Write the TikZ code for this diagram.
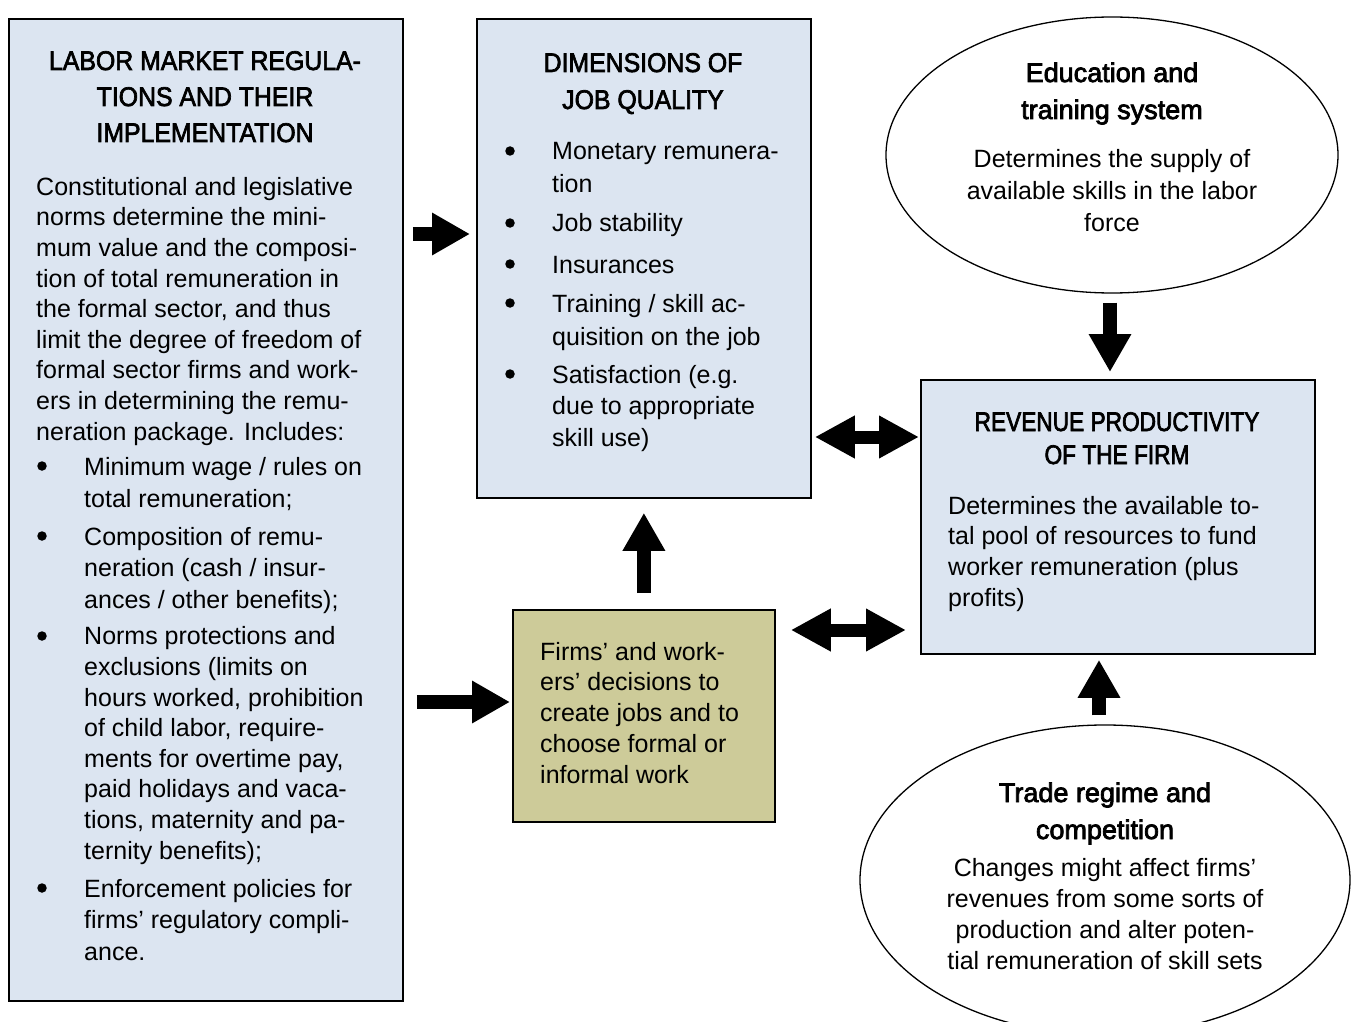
\documentclass[tikz,border=0pt]{standalone}
\usepackage{fontspec}
\setmainfont{Liberation Sans}
\newfontfamily\titlefont{Liberation Sans}[FakeStretch=0.92,FakeBold=2.5]
\newfontfamily\revfont{Liberation Sans}[FakeStretch=0.84,FakeBold=2.5]
\newfontfamily\medfont{Liberation Sans}[FakeBold=2.8]
\usetikzlibrary{arrows.meta,shapes.geometric}
\definecolor{lblue}{RGB}{220,229,241}
\definecolor{olive}{RGB}{205,203,153}
\tikzset{
  box/.style={draw, line width=1.8pt, fill=lblue, rectangle, inner sep=0pt, anchor=north west},
  oval/.style={draw, line width=1.3pt, fill=white, ellipse, inner sep=0pt},
  body/.style={inner sep=0pt, align=left, anchor=base west, font=\fontsize{25}{30.6}\selectfont},
  cbody/.style={inner sep=0pt, align=center, anchor=base, font=\fontsize{25}{31}\selectfont},
  ttl/.style={inner sep=0pt, align=center, anchor=base, font=\titlefont\fontsize{27}{36}\selectfont},
  otitle/.style={inner sep=0pt, align=center, anchor=base, font=\medfont\fontsize{27}{37}\selectfont},
  bul/.style={circle, fill=black, inner sep=0pt, minimum size=9.5pt},
  barrow/.style={line width=14pt, -{Triangle[width=40pt,length=38pt]}},
  dbarrow/.style={line width=13pt, {Triangle[width=40pt,length=40pt]}-{Triangle[width=40pt,length=40pt]}}
}
\begin{document}
\begin{tikzpicture}[x=1pt,y=-1pt]
\clip (0,0) rectangle (1353,1022);
\fill[white] (0,0) rectangle (1353,1022);
% boxes
\node[box, minimum width=394pt, minimum height=982pt] (lab) at (8,18) {};
\node[box, minimum width=334pt, minimum height=479pt] (dims) at (476,18) {};
\node[box, minimum width=394pt, minimum height=274pt] (rev) at (920,379) {};
\node[box, fill=olive, minimum width=262pt, minimum height=212pt] (firms) at (512,609) {};
\node[oval, minimum width=452pt, minimum height=276pt] (edu) at (1112,155) {};
\node[oval, minimum width=490pt, minimum height=310pt] (trade) at (1105,880) {};
% left box text (anchor = baseline of last line)
\node[ttl] (labt) at (205,142) {LABOR MARKET REGULA-\\TIONS AND THEIR\\IMPLEMENTATION};
\node[body] (labb) at (36,440) {Constitutional and legislative\\norms determine the mini-\\mum value and the composi-\\tion of total remuneration in\\the formal sector, and thus\\limit the degree of freedom of\\formal sector firms and work-\\ers in determining the remu-\\neration package. Includes:};
\node[bul] (lb1) at (42,466) {};
\node[body, font=\fontsize{25}{32}\selectfont] (li1) at (84,507) {Minimum wage / rules on\\total remuneration;};
\node[bul] (lb2) at (42,536) {};
\node[body, font=\fontsize{25}{31.5}\selectfont] (li2) at (84,608) {Composition of remu-\\neration (cash / insur-\\ances / other benefits);};
\node[bul] (lb3) at (42,636) {};
\node[body, font=\fontsize{25}{30.6}\selectfont] (li3) at (84,859) {Norms protections and\\exclusions (limits on\\hours worked, prohibition\\of child labor, require-\\ments for overtime pay,\\paid holidays and vaca-\\tions, maternity and pa-\\ternity benefits);};
\node[bul] (lb4) at (42,888) {};
\node[body, font=\fontsize{25}{31.5}\selectfont] (li4) at (84,960) {Enforcement policies for\\firms' regulatory compli-\\ance.};
% dimensions box text
\node[ttl, font=\titlefont\fontsize{27}{37}\selectfont] (dimt) at (643,109) {DIMENSIONS OF\\JOB QUALITY};
\node[bul] (db1) at (510,151) {};
\node[body, font=\fontsize{25}{33}\selectfont] (di1) at (552,193) {Monetary remunera-\\tion};
\node[bul] (db2) at (510,223) {};
\node[body] (di2) at (552,232) {Job stability};
\node[bul] (db3) at (510,264) {};
\node[body] (di3) at (552,273) {Insurances};
\node[bul] (db4) at (510,303) {};
\node[body, font=\fontsize{25}{33}\selectfont] (di4) at (552,345) {Training / skill ac-\\quisition on the job};
\node[bul] (db5) at (510,374) {};
\node[body, font=\fontsize{25}{31.5}\selectfont] (di5) at (552,446) {Satisfaction (e.g.\\due to appropriate\\skill use)};
% education ellipse
\node[otitle] (edut) at (1112,119) {Education and\\training system};
\node[cbody, font=\fontsize{25}{32}\selectfont] (edub) at (1112,231) {Determines the supply of\\available skills in the labor\\force};
% revenue box
\node[ttl, font=\revfont\fontsize{27}{33}\selectfont] (revt) at (1117,464) {REVENUE PRODUCTIVITY\\OF THE FIRM};
\node[body, font=\fontsize{25}{30.6}\selectfont] (revb) at (948,606) {Determines the available to-\\tal pool of resources to fund\\worker remuneration (plus\\profits)};
% firms box
\node[body, font=\fontsize{25}{30.75}\selectfont] (firmt) at (540,783) {Firms' and work-\\ers' decisions to\\create jobs and to\\choose formal or\\informal work};
% trade ellipse
\node[otitle] (tradet) at (1105,839) {Trade regime and\\competition};
\node[cbody, font=\fontsize{25}{31}\selectfont] (tradeb) at (1105,969) {Changes might affect firms'\\revenues from some sorts of\\production and alter poten-\\tial remuneration of skill sets};
% helper coordinates
\coordinate (yA) at (0,234);
\coordinate (yB) at (0,702);
\coordinate (yC) at (0,437);
\coordinate (yD) at (0,630);
\coordinate (xE) at (1110,0);
\coordinate (xF) at (1099,0);
% arrows
\draw[barrow] ([xshift=9pt]lab.east |- yA) -- ([xshift=-6pt]dims.west |- yA);
\draw[barrow] ([xshift=13pt]lab.east |- yB) -- ([xshift=-2pt]firms.west |- yB);
\draw[barrow] ([yshift=16pt]firms.north) -- ([yshift=-14pt]dims.south);
\draw[dbarrow] ([xshift=3pt]dims.east |- yC) -- ([xshift=-1pt]rev.west |- yC);
\draw[dbarrow] ([xshift=15pt]firms.east |- yD) -- ([xshift=-14pt]rev.west |- yD);
\draw[barrow] ([yshift=-9pt]edu.south -| xE) -- ([yshift=7pt]rev.north -| xE);
\draw[barrow] ([yshift=9pt]trade.north -| xF) -- ([yshift=-5pt]rev.south -| xF);
\end{tikzpicture}
\end{document}
